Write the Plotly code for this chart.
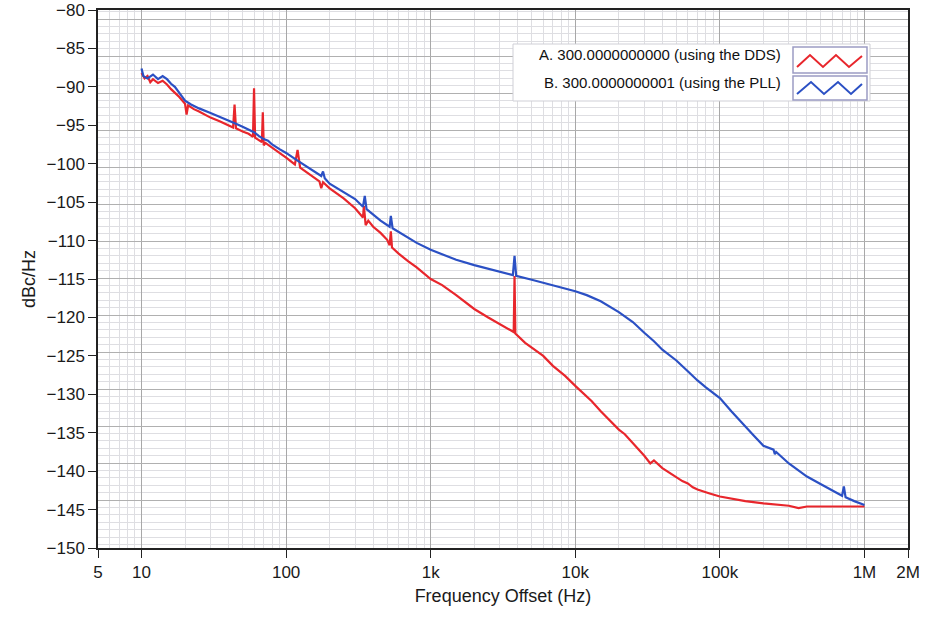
import plotly.graph_objects as go

# ---------------- data ----------------
freq_b = [10, 10.3, 11, 12, 13, 14, 15, 16, 17, 18, 20, 22, 25, 30, 35, 40, 45, 50, 55,
          60, 65, 70, 75, 80, 90, 100, 120, 150, 175, 180, 185, 200, 250, 300, 340, 350,
          360, 400, 450, 520, 530, 545, 600, 700, 800, 1000, 1200, 1500, 2000, 2500,
          3000, 3700, 3800, 3900, 5000, 7000, 10000, 12000, 15000, 20000, 25000, 30000,
          35000, 40000, 45000, 50000, 60000, 70000, 80000, 100000, 120000, 150000, 170000,
          200000, 235000, 240000, 245000, 300000, 350000, 400000, 500000, 600000,
          700000, 720000, 740000, 850000, 1000000]
level_b = [-87.6, -88.6, -88.9, -88.4, -89.0, -88.6, -89.0, -89.6, -90.0, -90.6, -91.8,
           -92.3, -92.8, -93.4, -93.9, -94.4, -94.8, -95.2, -95.6, -95.9, -96.4, -96.8,
           -97.0, -97.5, -98.1, -98.6, -99.6, -100.8, -101.6, -101.0, -101.9, -102.6,
           -103.7, -104.6, -105.6, -104.2, -105.9, -106.6, -107.4, -108.2, -106.8, -108.4,
           -108.9, -109.7, -110.3, -111.2, -111.8, -112.5, -113.2, -113.7, -114.1, -114.5,
           -112.0, -114.6, -115.1, -115.8, -116.6, -117.1, -117.9, -119.3, -120.6, -122.0,
           -123.1, -124.2, -124.9, -125.6, -127.0, -128.2, -129.1, -130.5, -132.2, -134.1,
           -135.3, -136.7, -137.2, -137.8, -137.5, -139.0, -139.9, -140.7, -141.7, -142.5,
           -143.2, -142.0, -143.4, -143.9, -144.4]

freq_a = [10, 10.5, 11, 11.5, 12, 13, 14, 15, 16, 18, 20, 20.5, 21, 23, 25, 30, 35, 40,
          43, 44, 45, 50, 55, 59, 60, 61, 65, 68, 69, 70, 72, 80, 90, 100, 115, 120, 125,
          150, 170, 175, 180, 200, 250, 300, 340, 345, 355, 370, 400, 450, 500, 520, 530,
          540, 600, 700, 800, 1000, 1200, 1500, 2000, 2500, 3000, 3750, 3800, 3850, 4500,
          5000, 6000, 7000, 8500, 10000, 12000, 13000, 15000, 17000, 20000, 22000, 25000,
          27000, 30000, 33000, 35000, 40000, 45000, 50000, 55000, 60000, 65000, 70000,
          80000, 85000, 100000, 120000, 150000, 200000, 300000, 350000, 400000, 500000,
          700000, 1000000]
level_a = [-88.2, -88.9, -88.6, -89.4, -89.0, -89.5, -89.2, -89.7, -90.3, -91.2, -92.2,
           -93.6, -92.4, -92.9, -93.2, -94.0, -94.5, -95.0, -95.3, -92.3, -95.4, -95.8,
           -96.1, -96.5, -90.2, -96.6, -96.9, -97.2, -93.3, -97.6, -97.3, -97.9, -98.6,
           -99.2, -100.1, -98.2, -100.5, -101.6, -102.3, -103.2, -102.4, -103.2, -104.5,
           -105.8, -107.0, -105.5, -108.0, -107.4, -108.2, -109.0, -109.9, -110.6, -108.8,
           -110.9, -111.7, -112.7, -113.5, -115.0, -115.8, -117.1, -118.9, -120.0, -120.9,
           -121.9, -114.6, -122.1, -123.3, -123.9, -125.0, -126.3, -127.6, -128.9, -130.2,
           -130.9, -132.2, -133.2, -134.6, -135.2, -136.3, -137.1, -138.0, -139.0, -138.6,
           -139.6, -140.2, -140.8, -141.3, -141.6, -142.1, -142.4, -142.8, -142.9, -143.3,
           -143.6, -143.9, -144.2, -144.5, -144.8, -144.6, -144.6, -144.6, -144.6]

x_tickvals = [5, 10, 100, 1e3, 1e4, 1e5, 1e6, 2e6]
x_ticktext = ["5", "10", "100", "1k", "10k", "100k", "1M", "2M"]
y_tickvals = list(range(-150, -79, 5))

legend_a = "A. 300.0000000000 (using the DDS)"
legend_b = "B. 300.0000000001 (using the PLL)"

RED = "#e8262c"
BLUE = "#2b50c4"

# ---------------- figure ----------------
W, H = 931, 620
ML, MR, MT, MB = 98, 23, 10, 72
PW, PH = W - ML - MR, H - MT - MB


def px(x):
    return (x - ML) / PW


def py(y):
    return (H - MB - y) / PH


# background grid (drawn from the original image): dark rules every 37 px
GRID_BASE, GRID_STEP = 500, 37
g_lo = (GRID_BASE - (H - MB)) / GRID_STEP
g_hi = (GRID_BASE - MT) / GRID_STEP

fig = go.Figure()

# helper trace so the background-grid axis is drawn
fig.add_trace(go.Scatter(x=[10], y=[0], yaxis="y2", mode="markers",
                         marker=dict(opacity=0), hoverinfo="skip", showlegend=False))

fig.add_trace(go.Scatter(x=freq_a, y=level_a, mode="lines", name=legend_a,
                         line=dict(color=RED, width=2.2), showlegend=False))
fig.add_trace(go.Scatter(x=freq_b, y=level_b, mode="lines", name=legend_b,
                         line=dict(color=BLUE, width=2.2), showlegend=False))

tickfont = dict(family="Liberation Sans, Arial, sans-serif", size=17, color="#1a1a1a")
titlefont = dict(family="Liberation Sans, Arial, sans-serif", size=18, color="#1a1a1a")

fig.update_layout(
    width=W, height=H,
    margin=dict(l=ML, r=MR, t=MT, b=MB, autoexpand=False),
    paper_bgcolor="white",
    plot_bgcolor="white",
    showlegend=False,
    xaxis=dict(
        type="log", range=[0.69897, 6.30103], automargin=False,
        ticklabeloverflow="allow",
        tickmode="array", tickvals=x_tickvals, ticktext=x_ticktext,
        ticks="outside", ticklen=8, tickwidth=1, tickcolor="#222",
        showline=True, linecolor="#222", linewidth=1.5, mirror=True,
        showgrid=True, gridcolor="#a8a8a8", gridwidth=1,
        minor=dict(dtick="D1", showgrid=True, gridcolor="#dedee2", gridwidth=1, ticks=""),
        tickfont=tickfont,
        title=dict(text="Frequency Offset (Hz)", font=titlefont, standoff=8),
        zeroline=False,
    ),
    yaxis=dict(
        range=[-150, -80], automargin=False,
        ticklabeloverflow="allow",
        tickmode="array", tickvals=y_tickvals,
        ticks="outside", ticklen=8, tickwidth=1, tickcolor="#222",
        showline=True, linecolor="#222", linewidth=1.5, mirror=True,
        showgrid=False, zeroline=False,
        tickfont=tickfont,
        title=dict(text="dBc/Hz", font=titlefont, standoff=6),
    ),
    yaxis2=dict(
        overlaying="y", range=[g_lo, g_hi], automargin=False,
        tickmode="array", tickvals=list(range(0, 14)),
        showticklabels=False, ticks="",
        showgrid=True, gridcolor="#b0b0b0", gridwidth=1,
        minor=dict(dtick=0.2, tick0=0, showgrid=True, gridcolor="#dedee2", gridwidth=1),
        zeroline=False, showline=False,
    ),
)

# curve labels
for txt, f, v in [("A", 16800, -131.3), ("B", 16800, -116.7)]:
    fig.add_annotation(x=f, y=v, xref="x", yref="y", text=txt, showarrow=False,
                       xanchor="center", yanchor="middle", bgcolor="white",
                       font=dict(family="Liberation Sans, Arial, sans-serif",
                                 size=14, color="#111"))

# hand-made legend box (text on the left, zigzag sample on the right)
fig.add_shape(type="rect", xref="paper", yref="paper",
              x0=px(513), x1=px(870), y0=py(101), y1=py(44),
              fillcolor="white", line=dict(color="#cfcfd6", width=1), layer="above")
for y0, y1 in [(47, 73), (76, 100)]:
    fig.add_shape(type="rect", xref="paper", yref="paper",
                  x0=px(793), x1=px(867), y0=py(y1), y1=py(y0),
                  fillcolor="white", line=dict(color="#9c9cc4", width=1.5), layer="above")


def zig(points):
    s = "M " + " L ".join(f"{px(a):.5f},{py(b):.5f}" for a, b in points)
    return s


fig.add_shape(type="path", xref="paper", yref="paper",
              path=zig([(797, 67), (810, 55), (823, 67), (836, 55), (849, 67), (862, 56)]),
              line=dict(color=RED, width=2), layer="above")
fig.add_shape(type="path", xref="paper", yref="paper",
              path=zig([(797, 94), (811, 82), (824, 94), (838, 82), (851, 94), (862, 84)]),
              line=dict(color=BLUE, width=2), layer="above")

for txt, yy in [(legend_a, 54), (legend_b, 82)]:
    fig.add_annotation(x=px(783), y=py(yy), xref="paper", yref="paper", text=txt,
                       showarrow=False, xanchor="right", yanchor="middle",
                       font=dict(family="Liberation Sans, Arial, sans-serif",
                                 size=15, color="#111"))

fig.write_html("out.html", config={"displayModeBar": False},
               post_script="document.body.style.margin='0';document.body.style.overflow='hidden';")
